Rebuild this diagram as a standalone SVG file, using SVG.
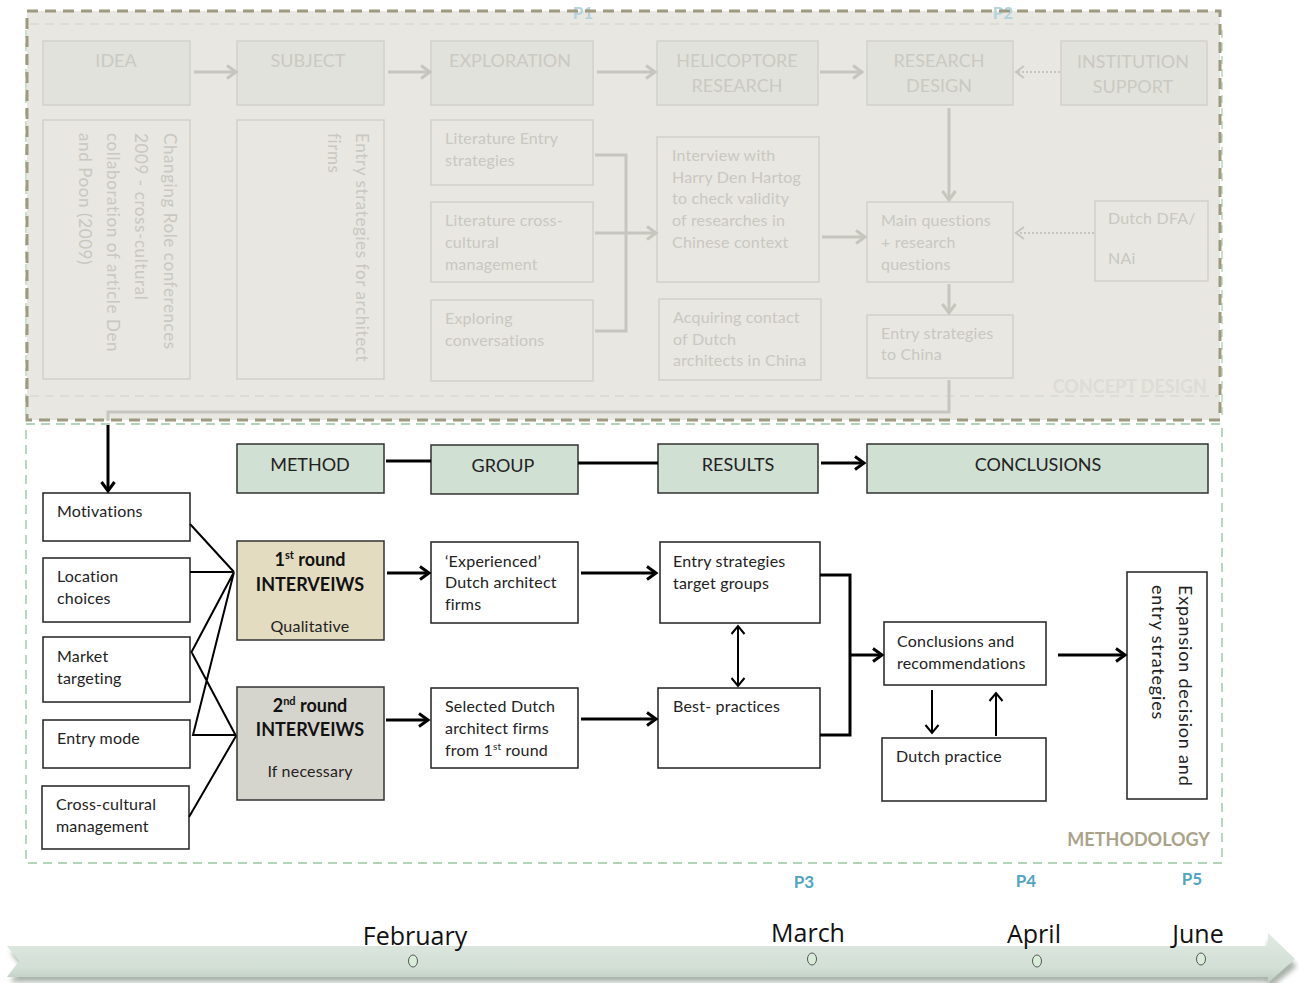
<svg xmlns="http://www.w3.org/2000/svg" width="1299" height="983" viewBox="0 0 1299 983">
  <style>
    .f { font-family: Lato, "Open Sans", "Liberation Sans", sans-serif; }
    .fadeBox { fill: #e2e2dc; stroke: #d2d1cb; stroke-width: 1.5; }
    .fadeDet { fill: none; stroke: #d2d1cb; stroke-width: 1.5; }
    .fadeTitle { font-family: Lato, "Open Sans", "Liberation Sans", sans-serif; font-size: 18px; fill: #cac9c2; text-anchor: middle; }
    .fadeTxt { font-family: Lato, "Open Sans", "Liberation Sans", sans-serif; font-size: 16px; letter-spacing: 0.2px; fill: #c9c8c1; }
    .fadeRot { font-family: Lato, "Open Sans", "Liberation Sans", sans-serif; font-size: 17px; letter-spacing: 0.6px; fill: #c9c8c1; }
    .gline { stroke: #c6c5be; stroke-width: 3; fill: none; }
    .gdot { stroke: #c6c5be; stroke-width: 2; stroke-dasharray: 2 2; fill: none; }
    .hdr { fill: #d0e0d2; stroke: #333; stroke-width: 1.5; }
    .box { fill: #fff; stroke: #222; stroke-width: 1.5; }
    .hdrTxt { font-family: Lato, "Open Sans", "Liberation Sans", sans-serif; font-size: 18px; fill: #222; text-anchor: middle; }
    .txt { font-family: Lato, "Open Sans", "Liberation Sans", sans-serif; font-size: 16px; letter-spacing: 0.2px; fill: #222; }
    .rot { font-family: Lato, "Open Sans", "Liberation Sans", sans-serif; font-size: 18px; letter-spacing: 0.8px; fill: #222; }
    .bold { font-family: Lato, "Open Sans", "Liberation Sans", sans-serif; font-size: 18px; font-weight: bold; fill: #111; text-anchor: middle; }
    .k3 { stroke: #000; stroke-width: 3; fill: none; }
    .k2 { stroke: #000; stroke-width: 2; fill: none; }
    .pl { font-family: Lato, "Open Sans", "Liberation Sans", sans-serif; font-size: 17px; font-weight: bold; fill: #4fa5c2; text-anchor: middle; }
    .month { font-family: "Open Sans", "Liberation Sans", sans-serif; font-size: 25px; fill: #111; text-anchor: middle; }
  </style>
  <defs>
    <marker id="ag" markerUnits="userSpaceOnUse" markerWidth="16" markerHeight="16" refX="11" refY="8" orient="auto">
      <path d="M2,1.5 L11,8 L2,14.5" fill="none" stroke="#c6c5be" stroke-width="3"/>
    </marker>
    <marker id="agd" markerUnits="userSpaceOnUse" markerWidth="16" markerHeight="16" refX="11" refY="8" orient="auto">
      <path d="M3,2 L11,8 L3,14" fill="none" stroke="#c6c5be" stroke-width="2"/>
    </marker>
    <marker id="ak" markerUnits="userSpaceOnUse" markerWidth="16" markerHeight="16" refX="11" refY="8" orient="auto">
      <path d="M2,1.5 L11,8 L2,14.5" fill="none" stroke="#000" stroke-width="3"/>
    </marker>
    <marker id="ak2" markerUnits="userSpaceOnUse" markerWidth="16" markerHeight="16" refX="11" refY="8" orient="auto">
      <path d="M3,1.5 L11,8 L3,14.5" fill="none" stroke="#000" stroke-width="2"/>
    </marker>
    <marker id="ak2s" markerUnits="userSpaceOnUse" markerWidth="16" markerHeight="16" refX="11" refY="8" orient="auto-start-reverse">
      <path d="M3,1.5 L11,8 L3,14.5" fill="none" stroke="#000" stroke-width="2"/>
    </marker>
    <linearGradient id="tl" x1="0" y1="0" x2="0" y2="1">
      <stop offset="0" stop-color="#e0eae2"/>
      <stop offset="0.7" stop-color="#d2dfd5"/>
      <stop offset="1" stop-color="#bccbbf"/>
    </linearGradient>
    <filter id="sh" x="-5%" y="-50%" width="110%" height="200%">
      <feGaussianBlur stdDeviation="2.5"/>
    </filter>
  </defs>

  <!-- concept design frame -->
  <g id="concept-frame">
    <rect x="27" y="11" width="1193" height="409" fill="#e8e7e2"/>
    <line x1="30" y1="24" x2="1218" y2="24" stroke="#d9dad4" stroke-width="1.5" stroke-dasharray="9 6"/>
    <line x1="30" y1="396" x2="1218" y2="396" stroke="#d9dad4" stroke-width="1.5" stroke-dasharray="9 6"/>
    <text x="583" y="19" class="pl" style="fill:#b3d3dd">P1</text>
    <text x="1003" y="19" class="pl" style="fill:#b3d3dd">P2</text>
    <line x1="26" y1="30" x2="26" y2="420" stroke="#b8d8be" stroke-width="1.5" stroke-dasharray="8 5"/>
    <line x1="1222" y1="30" x2="1222" y2="420" stroke="#b8d8be" stroke-width="1.5" stroke-dasharray="8 5"/>
    <rect x="27" y="11" width="1193" height="409" fill="none" stroke="#9d9a7f" stroke-width="3" stroke-dasharray="11 7"/>
    <text x="1207" y="393" text-anchor="end" class="f" font-size="18" font-weight="bold" fill="#dddcd5">CONCEPT DESIGN</text>
  </g>

  <!-- methodology frame -->
  <g id="methodology-frame">
    <rect x="26" y="424" width="1196" height="439" fill="none" stroke="#b3d4b9" stroke-width="1.8" stroke-dasharray="9 6"/>
    <text x="1210" y="846" text-anchor="end" class="f" font-size="18" font-weight="bold" fill="#a9a38a">METHODOLOGY</text>
  </g>

  <!-- concept design nodes -->
  <g id="idea"><rect class="fadeBox" x="43" y="41" width="147" height="64"/><text class="fadeTitle" x="116" y="67">IDEA</text></g>
  <g id="subject"><rect class="fadeBox" x="237" y="41" width="147" height="64"/><text class="fadeTitle" x="308" y="67">SUBJECT</text></g>
  <g id="exploration"><rect class="fadeBox" x="431" y="41" width="162" height="64"/><text class="fadeTitle" x="510" y="67">EXPLORATION</text></g>
  <g id="helicoptore"><rect class="fadeBox" x="657" y="41" width="161" height="64"/><text class="fadeTitle" x="737" y="67">HELICOPTORE</text><text class="fadeTitle" x="737" y="92">RESEARCH</text></g>
  <g id="research-design"><rect class="fadeBox" x="867" y="41" width="146" height="64"/><text class="fadeTitle" x="939" y="67">RESEARCH</text><text class="fadeTitle" x="939" y="92">DESIGN</text></g>
  <g id="institution"><rect class="fadeBox" x="1061" y="41" width="146" height="64"/><text class="fadeTitle" x="1133" y="68">INSTITUTION</text><text class="fadeTitle" x="1133" y="93">SUPPORT</text></g>

  <g id="idea-detail">
    <rect class="fadeDet" x="43" y="120" width="147" height="259"/>
    <text class="fadeRot" transform="translate(164,133) rotate(90)">Changing Role conferences</text>
    <text class="fadeRot" transform="translate(135,133) rotate(90)">2009 - cross-cultural</text>
    <text class="fadeRot" transform="translate(107,133) rotate(90)">collaboration of article Den</text>
    <text class="fadeRot" transform="translate(79,133) rotate(90)">and Poon (2009)</text>
  </g>
  <g id="subject-detail">
    <rect class="fadeDet" x="237" y="120" width="147" height="259"/>
    <text class="fadeRot" transform="translate(356,133) rotate(90)">Entry strategies for architect</text>
    <text class="fadeRot" transform="translate(328,133) rotate(90)">firms</text>
  </g>
  <g id="lit-entry"><rect class="fadeDet" x="431" y="120" width="162" height="65"/><text class="fadeTxt" x="445" y="144">Literature Entry</text><text class="fadeTxt" x="445" y="166">strategies</text></g>
  <g id="lit-cross"><rect class="fadeDet" x="431" y="202" width="162" height="80"/><text class="fadeTxt" x="445" y="226">Literature cross-</text><text class="fadeTxt" x="445" y="248">cultural</text><text class="fadeTxt" x="445" y="270">management</text></g>
  <g id="exploring"><rect class="fadeDet" x="431" y="300" width="162" height="81"/><text class="fadeTxt" x="445" y="324">Exploring</text><text class="fadeTxt" x="445" y="346">conversations</text></g>
  <g id="interview">
    <rect class="fadeDet" x="657" y="137" width="162" height="145"/>
    <text class="fadeTxt" x="672" y="161">Interview with</text>
    <text class="fadeTxt" x="672" y="183">Harry Den Hartog</text>
    <text class="fadeTxt" x="672" y="204">to check validity</text>
    <text class="fadeTxt" x="672" y="226">of researches in</text>
    <text class="fadeTxt" x="672" y="248">Chinese context</text>
  </g>
  <g id="acquiring"><rect class="fadeDet" x="659" y="299" width="162" height="81"/><text class="fadeTxt" x="673" y="323">Acquiring contact</text><text class="fadeTxt" x="673" y="345">of Dutch</text><text class="fadeTxt" x="673" y="366">architects in China</text></g>
  <g id="main-questions"><rect class="fadeDet" x="867" y="202" width="146" height="80"/><text class="fadeTxt" x="881" y="226">Main questions</text><text class="fadeTxt" x="881" y="248">+ research</text><text class="fadeTxt" x="881" y="270">questions</text></g>
  <g id="dutch-dfa"><rect class="fadeDet" x="1095" y="201" width="113" height="80"/><text class="fadeTxt" x="1108" y="224">Dutch DFA/</text><text class="fadeTxt" x="1108" y="264">NAi</text></g>
  <g id="entry-china"><rect class="fadeDet" x="867" y="315" width="146" height="63"/><text class="fadeTxt" x="881" y="339">Entry strategies</text><text class="fadeTxt" x="881" y="360">to China</text></g>

  <!-- methodology nodes -->
  <g id="method"><rect class="hdr" x="237" y="444" width="147" height="49"/><text class="hdrTxt" x="310" y="471">METHOD</text></g>
  <g id="group"><rect class="hdr" x="431" y="445" width="147" height="49"/><text class="hdrTxt" x="503" y="472">GROUP</text></g>
  <g id="results"><rect class="hdr" x="658" y="444" width="160" height="49"/><text class="hdrTxt" x="738" y="471">RESULTS</text></g>
  <g id="conclusions"><rect class="hdr" x="867" y="444" width="341" height="49"/><text class="hdrTxt" x="1038" y="471">CONCLUSIONS</text></g>

  <g id="motivations"><rect class="box" x="43" y="493" width="147" height="48"/><text class="txt" x="57" y="517">Motivations</text></g>
  <g id="location"><rect class="box" x="43" y="558" width="147" height="64"/><text class="txt" x="57" y="582">Location</text><text class="txt" x="57" y="604">choices</text></g>
  <g id="market"><rect class="box" x="43" y="637" width="147" height="65"/><text class="txt" x="57" y="662">Market</text><text class="txt" x="57" y="684">targeting</text></g>
  <g id="entry-mode"><rect class="box" x="43" y="720" width="147" height="48"/><text class="txt" x="57" y="744">Entry mode</text></g>
  <g id="cross-cultural"><rect class="box" x="42" y="786" width="147" height="63"/><text class="txt" x="56" y="810">Cross-cultural</text><text class="txt" x="56" y="832">management</text></g>

  <g id="round1">
    <rect x="237" y="541" width="147" height="99" fill="#e3dcc0" stroke="#333" stroke-width="1.5"/>
    <text class="bold" x="310" y="566">1<tspan font-size="11" dy="-7">st</tspan><tspan dy="7"> round</tspan></text>
    <text class="bold" x="310" y="591">INTERVEIWS</text>
    <text class="txt" x="310" y="632" text-anchor="middle">Qualitative</text>
  </g>
  <g id="round2">
    <rect x="237" y="687" width="147" height="113" fill="#d6d5cd" stroke="#333" stroke-width="1.5"/>
    <text class="bold" x="310" y="712">2<tspan font-size="11" dy="-7">nd</tspan><tspan dy="7"> round</tspan></text>
    <text class="bold" x="310" y="736">INTERVEIWS</text>
    <text class="txt" x="310" y="777" text-anchor="middle">If necessary</text>
  </g>

  <g id="experienced"><rect class="box" x="431" y="542" width="147" height="81"/><text class="txt" x="445" y="567">‘Experienced’</text><text class="txt" x="445" y="588">Dutch architect</text><text class="txt" x="445" y="610">firms</text></g>
  <g id="selected"><rect class="box" x="431" y="688" width="147" height="80"/><text class="txt" x="445" y="712">Selected Dutch</text><text class="txt" x="445" y="734">architect firms</text><text class="txt" x="445" y="756">from 1<tspan font-size="10" dy="-6">st</tspan><tspan dy="6"> round</tspan></text></g>
  <g id="entry-strategies"><rect class="box" x="660" y="542" width="160" height="81"/><text class="txt" x="673" y="567">Entry strategies</text><text class="txt" x="673" y="589">target groups</text></g>
  <g id="best-practices"><rect class="box" x="658" y="688" width="162" height="80"/><text class="txt" x="673" y="712">Best- practices</text></g>
  <g id="conclusions-rec"><rect class="box" x="884" y="622" width="162" height="63"/><text class="txt" x="897" y="647">Conclusions and</text><text class="txt" x="897" y="669">recommendations</text></g>
  <g id="dutch-practice"><rect class="box" x="882" y="738" width="164" height="63"/><text class="txt" x="896" y="762">Dutch practice</text></g>
  <g id="expansion">
    <rect class="box" x="1127" y="572" width="80" height="227"/>
    <text class="rot" transform="translate(1179,585) rotate(90)">Expansion decision and</text>
    <text class="rot" transform="translate(1152,585) rotate(90)">entry strategies</text>
  </g>

  <!-- connectors -->
  <g id="connectors">
    <!-- concept design -->
    <line class="gline" x1="194" y1="72" x2="236" y2="72" marker-end="url(#ag)"/>
    <line class="gline" x1="388" y1="72" x2="430" y2="72" marker-end="url(#ag)"/>
    <line class="gline" x1="597" y1="72" x2="655" y2="72" marker-end="url(#ag)"/>
    <line class="gline" x1="820" y1="72" x2="862" y2="72" marker-end="url(#ag)"/>
    <line class="gdot" x1="1060" y1="72" x2="1016" y2="72" marker-end="url(#agd)"/>
    <line class="gline" x1="949" y1="108" x2="949" y2="200" marker-end="url(#ag)"/>
    <path class="gline" d="M595,155 H626 V331 H595 M595,233 H626"/>
    <line class="gline" x1="626" y1="233" x2="656" y2="233" marker-end="url(#ag)"/>
    <line class="gline" x1="822" y1="237" x2="865" y2="237" marker-end="url(#ag)"/>
    <line class="gdot" x1="1094" y1="233" x2="1016" y2="233" marker-end="url(#agd)"/>
    <line class="gline" x1="949" y1="284" x2="949" y2="313" marker-end="url(#ag)"/>
    <path class="gline" d="M949,380 V412 H108 V421"/>
    <line class="k3" x1="108" y1="425" x2="108" y2="491" marker-end="url(#ak)"/>

    <!-- methodology header row -->
    <line class="k3" x1="386" y1="461" x2="431" y2="461"/>
    <line class="k3" x1="578" y1="463" x2="658" y2="463"/>
    <line class="k3" x1="821" y1="463" x2="864" y2="463" marker-end="url(#ak)"/>

    <!-- topics into interview rounds -->
    <path class="k2" d="M190,524 L234,572 M190,572 H234 M234,572 L191,653 M234,572 L193,735 H236 M192,653 L236,736 M189,817 L236,736"/>

    <line class="k3" x1="387" y1="573" x2="429" y2="573" marker-end="url(#ak)"/>
    <line class="k3" x1="386" y1="720" x2="428" y2="720" marker-end="url(#ak)"/>
    <line class="k3" x1="581" y1="573" x2="656" y2="573" marker-end="url(#ak)"/>
    <line class="k3" x1="581" y1="719" x2="656" y2="719" marker-end="url(#ak)"/>
    <line class="k2" x1="738" y1="626" x2="738" y2="686" marker-start="url(#ak2s)" marker-end="url(#ak2)"/>
    <path class="k3" d="M820,575 H850 V735 H820"/>
    <line class="k3" x1="850" y1="655" x2="882" y2="655" marker-end="url(#ak)"/>
    <line class="k2" x1="932" y1="690" x2="932" y2="733" marker-end="url(#ak2)"/>
    <line class="k2" x1="996" y1="736" x2="996" y2="693" marker-end="url(#ak2)"/>
    <line class="k3" x1="1058" y1="655" x2="1125" y2="655" marker-end="url(#ak)"/>
  </g>

  <!-- phase labels -->
  <g id="phases">
    <text class="pl" x="804" y="888">P3</text>
    <text class="pl" x="1026" y="887">P4</text>
    <text class="pl" x="1192" y="885">P5</text>
  </g>

  <!-- timeline -->
  <g id="timeline">
    <path d="M10,952 L1268,952 L1268,940 L1297,966 L1268,990 L1268,982 L10,982 L22,967 Z" fill="#6f7f73" opacity="0.6" filter="url(#sh)"/>
    <path d="M7,946 L1268,946 L1268,933 L1295,959 L1268,983 L1268,977 L7,977 L19,961 Z" fill="url(#tl)"/>
    <text class="month" x="415" y="945">February</text>
    <text class="month" x="808" y="942">March</text>
    <text class="month" x="1034" y="943">April</text>
    <text class="month" x="1198" y="943">June</text>
    <ellipse cx="413" cy="961" rx="4.5" ry="6" fill="#d9ecd9" stroke="#555" stroke-width="1"/>
    <ellipse cx="812" cy="959" rx="4.5" ry="6" fill="#d9ecd9" stroke="#555" stroke-width="1"/>
    <ellipse cx="1037" cy="961" rx="4.5" ry="6" fill="#d9ecd9" stroke="#555" stroke-width="1"/>
    <ellipse cx="1201" cy="959" rx="4.5" ry="6" fill="#d9ecd9" stroke="#555" stroke-width="1"/>
  </g>
</svg>
